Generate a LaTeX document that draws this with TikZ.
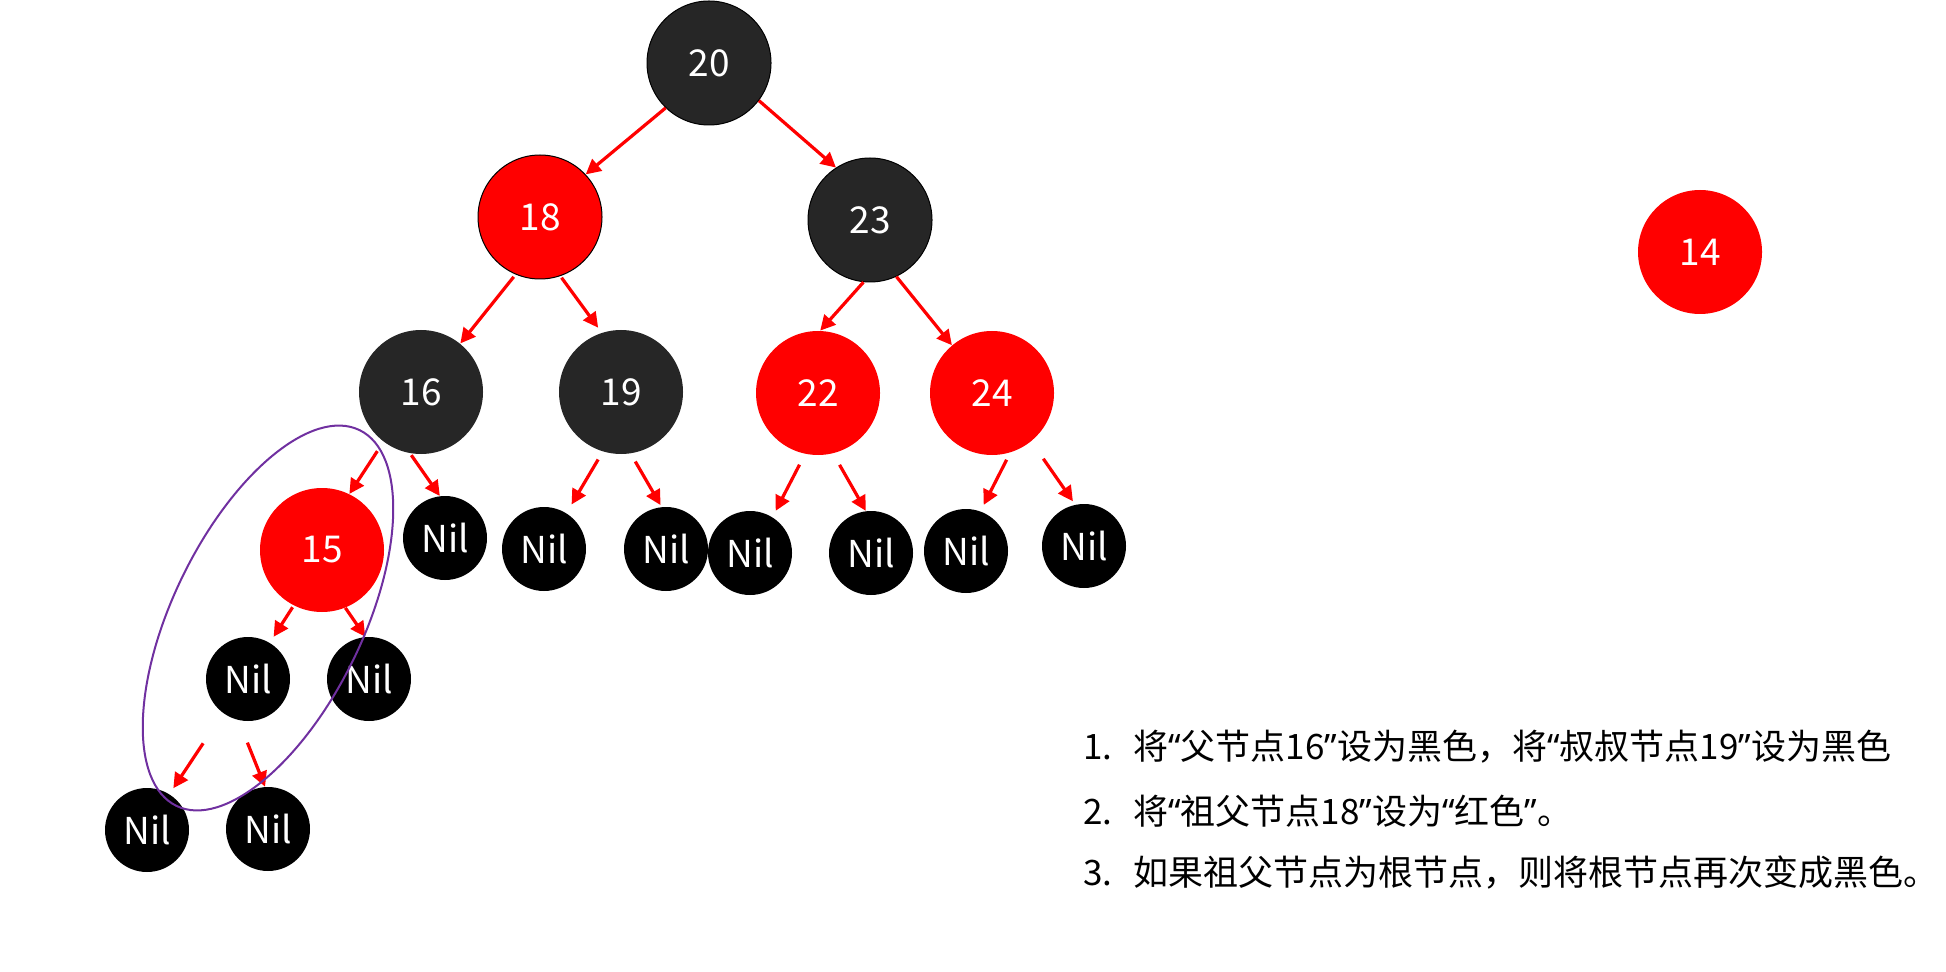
\documentclass[tikz,border=0pt]{standalone}
\usepackage{fontspec}
\setmainfont{Noto Sans CJK SC}
\newfontfamily\quotefont{Noto Sans}
\newcommand{\oq}{{\quotefont “}}
\newcommand{\cq}{{\quotefont ”}}
\usetikzlibrary{arrows.meta}
\definecolor{nodegray}{HTML}{262626}
\definecolor{rbred}{HTML}{FF0000}
\definecolor{ringpurple}{HTML}{7030A0}
\begin{document}
\begin{tikzpicture}[x=0.5pt,y=-0.5pt,
    keynode/.style={circle,inner sep=0pt,minimum size=62pt,text=white,
      font=\fontsize{18.5}{20}\selectfont},
    blknode/.style={keynode,fill=nodegray,draw=black,line width=0.5pt},
    rednode/.style={keynode,fill=rbred},
    nilnode/.style={circle,inner sep=0pt,minimum size=42pt,fill=black,text=white,
      font=\fontsize{18.5}{20}\selectfont},
    link/.style={draw=rbred,line width=1.6pt,-{Triangle[length=7.5pt,width=7.5pt]}},
    note/.style={anchor=west,inner sep=0pt,font=\fontsize{17.5}{21}\selectfont}]
  \useasboundingbox (0,0) rectangle (1946,972);
  % tree
  \node[blknode] (n20) at (709,63) {20};
  \node[rednode,draw=black,line width=0.5pt] (n18) at (540,217) {18};
  \node[blknode] (n23) at (870,220) {23};
  \node[blknode,draw=none] (n16) at (421,392) {16};
  \node[blknode,draw=none] (n19) at (621,392) {19};
  \node[rednode] (n22) at (818,393) {22};
  \node[rednode] (n24) at (992,393) {24};
  \node[rednode] (n15) at (322,550) {15};
  \node[rednode] (n14) at (1700,252) {14};
  % leaves
  \node[nilnode] (nil1) at (445,538) {Nil};
  \node[nilnode] (nil2) at (544,549) {Nil};
  \node[nilnode] (nil3) at (666,549) {Nil};
  \node[nilnode] (nil4) at (750,553) {Nil};
  \node[nilnode] (nil5) at (871,553) {Nil};
  \node[nilnode] (nil6) at (966,551) {Nil};
  \node[nilnode] (nil7) at (1084,546) {Nil};
  \node[nilnode] (nilA) at (248,679) {Nil};
  \node[nilnode] (nilB) at (369,679) {Nil};
  \node[nilnode] (nilC) at (147,830) {Nil};
  \node[nilnode] (nilD) at (268,829) {Nil};
  % arrows: from.angle / to.angle / gap at start / gap at end (pt)
  \foreach \a/\sa/\b/\eb/\gs/\ge in {n20/226/n18/43/0/0, n20/323/n23/123/0/0,
      n18/247/n16/51/1.5/0, n18/289/n19/108/1/3, n23/264/n22/88/0/0,
      n23/295/n24/130/0/0, n16/233/n15/64/5.5/0, n16/260/nil1/97/1/0,
      n19/253/nil2/58/4.5/5, n19/279/nil3/96/4.5/1, n22/258/nil4/58/6/3.5,
      n22/284/nil5/97/6.5/0, n24/287/nil6/70/4/3.5, n24/309/nil7/102/10.5/2,
      n15/243/nilA/59/1/3.5, n15/292/nilB/95/0/0,
      nilA/234/nilC/58/18/3.5, nilA/257/nilD/94/12/0}
    \draw[link,shorten <=\gs pt,shorten >=\ge pt] (\a.\sa) -- (\b.\eb);
  % ring round the new red pair
  \draw[ringpurple,line width=1pt,rotate around={64:(268,618)}]
    (268,618) ellipse [x radius=209,y radius=95];
  % steps
  \node[note] (step1) at (1083,747) {\makebox[25pt][l]{1.}将\oq 父节点16\cq 设为黑色，将\oq 叔叔节点19\cq 设为黑色};
  \node[note] (step2) at (1083,811) {\makebox[25pt][l]{2.}将\oq 祖父节点18\cq 设为\oq 红色\cq 。};
  \node[note] (step3) at (1083,873) {\makebox[25pt][l]{3.}如果祖父节点为根节点，则将根节点再次变成黑色。};
\end{tikzpicture}
\end{document}
